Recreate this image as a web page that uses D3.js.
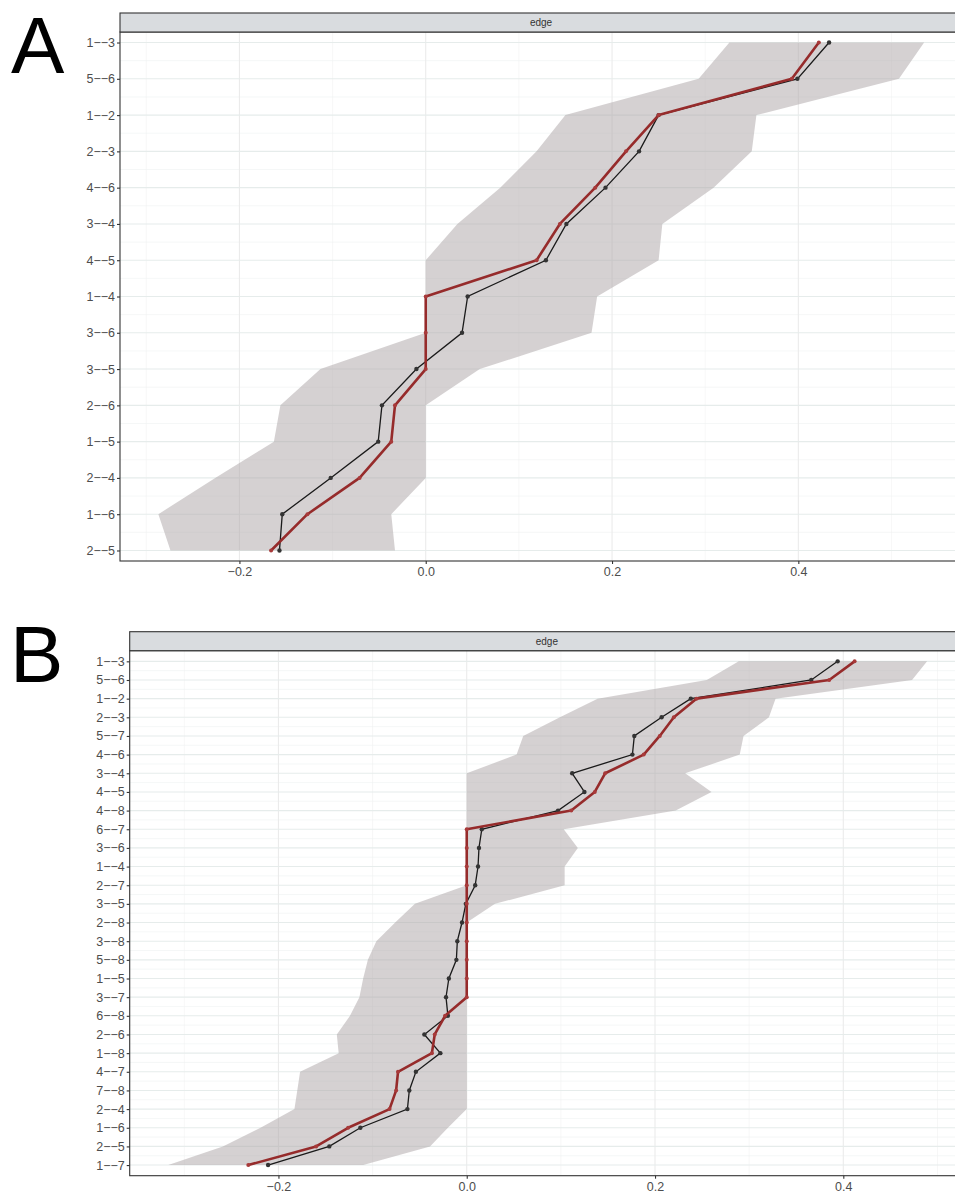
<!DOCTYPE html>
<html>
<head>
    <meta charset="UTF-8">
    <title>edge</title>
    <script type="text/javascript" src="https://d3js.org/d3.v7.min.js"></script>
    <style>
        body { margin: 0; background: #fff; }
        svg { display: block; font-family: "Liberation Sans", Arial, sans-serif; }
    </style>
</head>
<body>
    <div id="chart"></div>

    <script>
        // panel A
        var catsA = ["1--3", "5--6", "1--2", "2--3", "4--6", "3--4", "4--5", "1--4", "3--6", "3--5", "2--6", "1--5", "2--4", "1--6", "2--5"];
        var blackA = [0.433, 0.399, 0.250, 0.229, 0.193, 0.151, 0.129, 0.045, 0.039, -0.010, -0.047, -0.051, -0.102, -0.154, -0.157];
        var redA = [0.422, 0.393, 0.250, 0.215, 0.182, 0.144, 0.119, 0, 0, 0, -0.033, -0.037, -0.071, -0.127, -0.166];
        var lowA = [0.326, 0.293, 0.150, 0.119, 0.080, 0.034, 0, 0, 0, -0.113, -0.156, -0.163, -0.226, -0.287, -0.274];
        var highA = [0.535, 0.508, 0.355, 0.350, 0.309, 0.254, 0.250, 0.184, 0.178, 0.058, 0, 0, 0, -0.037, -0.033];

        // panel B
        var catsB = ["1--3", "5--6", "1--2", "2--3", "5--7", "4--6", "3--4", "4--5", "4--8", "6--7", "3--6", "1--4", "2--7", "3--5",
                     "2--8", "3--8", "5--8", "1--5", "3--7", "6--8", "2--6", "1--8", "4--7", "7--8", "2--4", "1--6", "2--5", "1--7"];
        var blackB = [0.394, 0.366, 0.238, 0.207, 0.178, 0.176, 0.112, 0.125, 0.097, 0.016, 0.013, 0.012, 0.009, -0.001,
                      -0.005, -0.010, -0.011, -0.019, -0.022, -0.020, -0.045, -0.028, -0.054, -0.061, -0.063, -0.113, -0.146, -0.211];
        var redB = [0.412, 0.385, 0.244, 0.220, 0.205, 0.188, 0.147, 0.136, 0.111, 0, 0, 0, 0, 0,
                    0, 0, 0, 0, 0, -0.023, -0.034, -0.037, -0.073, -0.075, -0.082, -0.126, -0.160, -0.232];
        var lowB = [0.289, 0.255, 0.139, 0.099, 0.060, 0.053, 0, 0, 0, 0, 0, 0, 0, -0.055,
                    -0.076, -0.096, -0.105, -0.110, -0.114, -0.124, -0.138, -0.136, -0.177, -0.180, -0.183, -0.219, -0.259, -0.317];
        var highB = [0.489, 0.473, 0.328, 0.321, 0.294, 0.290, 0.232, 0.260, 0.222, 0.103, 0.118, 0.104, 0.104, 0.030,
                     0, 0, 0, 0, 0, 0, 0, 0, 0, 0, 0, -0.020, -0.039, -0.110];

        var xTicks = [-0.2, 0, 0.2, 0.4];
        var xMinor = [-0.3, -0.1, 0.1, 0.3, 0.5];
        var stripLabel = "edge";

        var width = 955, height = 1193;
        var svg = d3.select("#chart").append("svg")
            .attr("width", width).attr("height", height);

        // R draws the dashes in these labels as long minus glyphs
        function dash(s) { return s.replace(/-/g, "\u2212"); }

        function drawPanel(p) {
            var g = svg.append("g");
            var x = d3.scaleLinear().domain(p.xDomain).range([p.left, p.right]);
            var y = d3.scalePoint().domain(p.cats).range([p.top, p.bottom]).padding(p.pad);
            var half = y.step() / 2;

            g.append("rect").attr("x", p.left).attr("y", p.top)
                .attr("width", p.right - p.left).attr("height", p.bottom - p.top)
                .attr("fill", "#fff");

            // grid
            var grid = g.append("g");
            grid.selectAll(".vminor").data(xMinor).enter().append("line")
                .attr("x1", function (d) { return x(d); }).attr("x2", function (d) { return x(d); })
                .attr("y1", p.top).attr("y2", p.bottom)
                .attr("stroke", "#f1f1f1").attr("stroke-width", 0.6);
            grid.selectAll(".hminor").data(p.cats.slice(1)).enter().append("line")
                .attr("x1", p.left).attr("x2", p.right)
                .attr("y1", function (d) { return y(d) - half; }).attr("y2", function (d) { return y(d) - half; })
                .attr("stroke", "#eef1f1").attr("stroke-width", 0.6);
            grid.selectAll(".vmajor").data(xTicks).enter().append("line")
                .attr("x1", function (d) { return x(d); }).attr("x2", function (d) { return x(d); })
                .attr("y1", p.top).attr("y2", p.bottom)
                .attr("stroke", "#ebebeb").attr("stroke-width", 1.1);
            grid.selectAll(".hmajor").data(p.cats).enter().append("line")
                .attr("x1", p.left).attr("x2", p.right)
                .attr("y1", function (d) { return y(d); }).attr("y2", function (d) { return y(d); })
                .attr("stroke", "#e6eceb").attr("stroke-width", 1.1);

            var rows = p.cats.map(function (c, i) {
                return { cat: c, black: p.black[i], red: p.red[i], low: p.low[i], high: p.high[i] };
            });

            // ribbon
            var area = d3.area()
                .y(function (d) { return y(d.cat); })
                .x0(function (d) { return x(d.low); })
                .x1(function (d) { return x(d.high); });
            g.append("path").datum(rows)
                .attr("d", area)
                .attr("fill", "#aca4a6").attr("fill-opacity", 0.5);

            // lines + points
            var lineBlack = d3.line().x(function (d) { return x(d.black); }).y(function (d) { return y(d.cat); });
            var lineRed = d3.line().x(function (d) { return x(d.red); }).y(function (d) { return y(d.cat); });

            g.append("path").datum(rows).attr("d", lineBlack)
                .attr("fill", "none").attr("stroke", "#1a1a1a").attr("stroke-width", 1.3);
            g.selectAll(".ptb").data(rows).enter().append("circle")
                .attr("cx", function (d) { return x(d.black); }).attr("cy", function (d) { return y(d.cat); })
                .attr("r", 2.2).attr("fill", "#333");

            g.append("path").datum(rows).attr("d", lineRed)
                .attr("fill", "none").attr("stroke", "#962b2b").attr("stroke-width", 2.6)
                .attr("stroke-linejoin", "round");
            g.selectAll(".ptr").data(rows).enter().append("circle")
                .attr("cx", function (d) { return x(d.red); }).attr("cy", function (d) { return y(d.cat); })
                .attr("r", 2).attr("fill", "#a83a3a");

            // border
            g.append("rect").attr("x", p.left).attr("y", p.top)
                .attr("width", p.right - p.left).attr("height", p.bottom - p.top)
                .attr("fill", "none").attr("stroke", "#333").attr("stroke-width", 1.1);

            // strip
            g.append("rect").attr("x", p.left).attr("y", p.stripTop)
                .attr("width", p.right - p.left).attr("height", p.top - p.stripTop)
                .attr("fill", "#d9dcdf").attr("stroke", "#333").attr("stroke-width", 1.1);
            g.append("text").attr("x", (p.left + p.right) / 2).attr("y", (p.top + p.stripTop) / 2)
                .attr("dy", "0.35em").attr("text-anchor", "middle")
                .attr("font-size", 10).attr("fill", "#333").text(stripLabel);

            // axes
            var yAxis = g.append("g").attr("transform", "translate(" + p.left + ",0)")
                .call(d3.axisLeft(y).tickSize(3).tickPadding(2).tickFormat(dash));
            var xAxis = g.append("g").attr("transform", "translate(0," + p.bottom + ")")
                .call(d3.axisBottom(x).tickValues(xTicks).tickSize(3).tickPadding(3).tickFormat(d3.format(".1f")));
            [yAxis, xAxis].forEach(function (ax) {
                ax.select(".domain").remove();
                ax.selectAll(".tick line").attr("stroke", "#333").attr("stroke-width", 1.1);
                ax.selectAll(".tick text").attr("fill", "#4d4d4d")
                    .attr("font-size", 12.5).attr("font-family", "'Liberation Sans', Arial, sans-serif");
            });

            svg.append("text").attr("x", p.letterX).attr("y", p.letterY)
                .attr("font-size", 80).attr("fill", "#000")
                .attr("font-family", "'Liberation Sans', Arial, sans-serif")
                .text(p.letter);
        }

        drawPanel({
            letter: "A", letterX: 11, letterY: 73,
            cats: catsA, black: blackA, red: redA, low: lowA, high: highA,
            xDomain: [-0.3282, 0.5757], left: 120, right: 962,
            stripTop: 13, top: 32, bottom: 561, pad: 0.29
        });

        drawPanel({
            letter: "B", letterX: 10, letterY: 682,
            cats: catsB, black: blackB, red: redB, low: lowB, high: highB,
            xDomain: [-0.358, 0.5282], left: 129.7, right: 964,
            stripTop: 631.7, top: 650.7, bottom: 1175.7, pad: 0.57
        });
    </script>
</body>
</html>
